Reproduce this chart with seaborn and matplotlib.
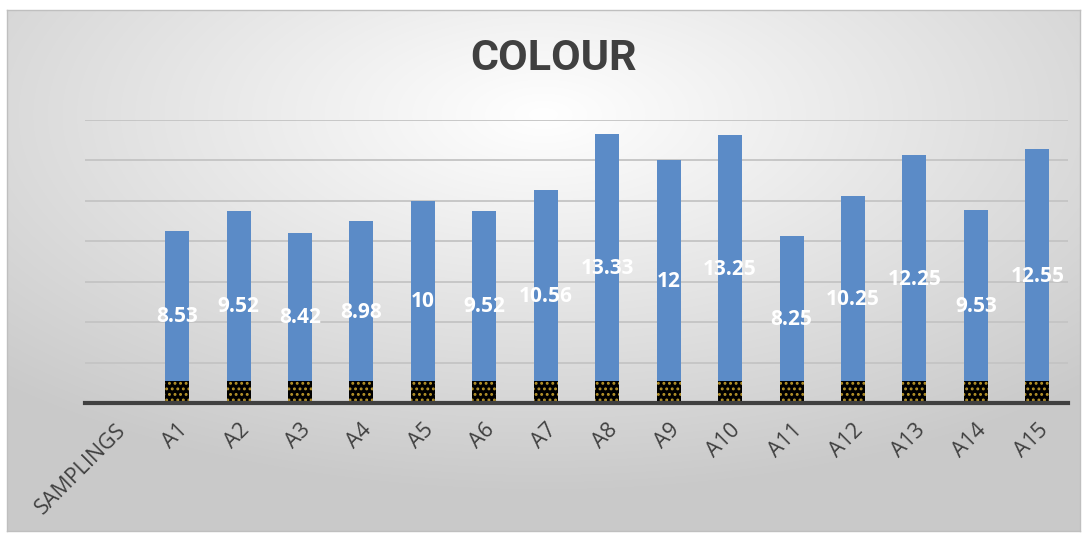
import numpy as np
import pandas as pd
import matplotlib
matplotlib.use("Agg")
import matplotlib.pyplot as plt
import seaborn as sns

categories = ["SAMPLINGS", "A1", "A2", "A3", "A4", "A5", "A6", "A7", "A8", "A9", "A10",
              "A11", "A12", "A13", "A14", "A15"]
colour_values = [np.nan, 8.53, 9.52, 8.42, 8.98, 10, 9.52, 10.56, 13.33, 12, 13.25,
                 8.25, 10.25, 12.25, 9.53, 12.55]
base_values = [np.nan] + [1.1] * 15
label_texts = ["", "8.53", "9.52", "8.42", "8.98", "10", "9.52", "10.56", "13.33", "12",
               "13.25", "8.25", "10.25", "12.25", "9.53", "12.55"]

sns.set_theme(style="white")
plt.rcParams['font.family'] = ['Open Sans', 'DejaVu Sans']
plt.rcParams['hatch.linewidth'] = 1.3

W, H = 1087, 533
fig = plt.figure(figsize=(W / 100, H / 100), dpi=100)
fig.patch.set_facecolor("white")

# background panel with radial gradient
bg = fig.add_axes([7 / W, 1 - 531 / H, (1080 - 7) / W, (531 - 10) / H])
yy, xx = np.mgrid[-1:1:200j, -1:1:400j]
r = np.sqrt((xx * 0.9) ** 2 + ((yy + 0.6) * 0.9) ** 2)
g = np.clip(1.0 - 0.16 * r, 0.79, 1.0)
bg.imshow(np.dstack([g, g, g]), aspect="auto", extent=[0, 1, 0, 1], interpolation="bilinear")
bg.set_xlim(0, 1)
bg.set_ylim(0, 1)
bg.set_xticks([])
bg.set_yticks([])
for s in bg.spines.values():
    s.set_color("#bfbfbf")
    s.set_linewidth(1.0)

# plot area: x 85..1068, y 120 (14) .. 403 (0)
ax = fig.add_axes([85 / W, 1 - 403 / H, (1068 - 85) / W, (403 - 120) / H])
ax.patch.set_alpha(0)

df = pd.DataFrame({"cat": categories, "val": colour_values, "base": base_values})
sns.barplot(data=df, x="cat", y="val", order=categories, color="#5b8bc7",
            width=0.39, ax=ax, saturation=1, edgecolor="none")
sns.barplot(data=df, x="cat", y="base", order=categories, color="black",
            width=0.39, ax=ax, saturation=1, edgecolor="none")
for p in ax.containers[-1]:
    p.set_facecolor("black")
    p.set_hatch("...")
    p.set_edgecolor("#b8952a")
    p.set_linewidth(0)

ax.set_ylim(0, 14)
ax.set_xlim(-0.5, 15.5)
ax.set_yticks(np.arange(0, 15, 2))
ax.set_yticklabels([])
ax.tick_params(axis="y", length=0)
ax.yaxis.grid(True, color="#c4c4c4", linewidth=1.3)
ax.set_axisbelow(True)
for s in ["top", "right", "left"]:
    ax.spines[s].set_visible(False)
ax.spines["bottom"].set_color("#404040")
ax.spines["bottom"].set_linewidth(3)
ax.set_xlabel("")
ax.set_ylabel("")
ax.set_xticks(range(len(categories)))
ax.set_xticklabels(categories, rotation=45, ha="right", rotation_mode="anchor",
                   fontsize=15.5, color="#404040")
ax.tick_params(axis="x", length=0, pad=12)

for i, (v, t) in enumerate(zip(colour_values, label_texts)):
    if not np.isnan(v):
        ax.text(i, v / 2, t, ha="center", va="center", color="white",
                fontsize=15, fontweight="bold")

fig.text(553 / W, 1 - 58 / H, "COLOUR", ha="center", va="center", fontsize=31,
         fontweight="bold", color="#404040", family=["Roboto", "DejaVu Sans"])

fig.savefig("out.png", dpi=100)
